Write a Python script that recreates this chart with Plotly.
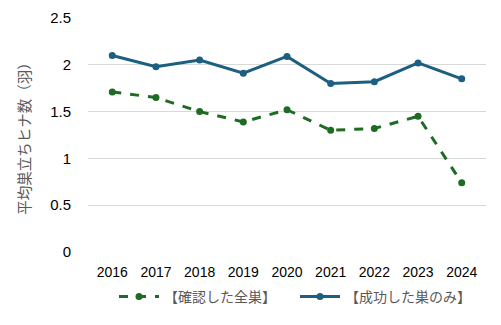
import plotly.graph_objects as go

years = ["2016", "2017", "2018", "2019", "2020", "2021", "2022", "2023", "2024"]
all_nests = [1.71, 1.65, 1.50, 1.39, 1.52, 1.30, 1.32, 1.45, 0.74]
successful_nests = [2.10, 1.98, 2.05, 1.91, 2.09, 1.80, 1.82, 2.02, 1.85]
name_all = "【確認した全巣】"
name_success = "【成功した巣のみ】"
y_title = "平均巣立ちヒナ数（羽）"
y_ticks = [0, 0.5, 1, 1.5, 2, 2.5]

green = "#1e6b24"
blue = "#1d5f80"

fig = go.Figure()
fig.add_trace(go.Scatter(
    x=years, y=all_nests, name=name_all, mode="lines+markers",
    line=dict(color=green, width=3, dash="dash"),
    marker=dict(color=green, size=7), legend="legend",
))
fig.add_trace(go.Scatter(
    x=years, y=successful_nests, name=name_success, mode="lines+markers",
    line=dict(color=blue, width=3),
    marker=dict(color=blue, size=7), legend="legend2",
))

legend_common = dict(
    orientation="h", xanchor="left", xref="container",
    y=1 - 297 / 325, yanchor="middle", yref="container",
    font=dict(size=14, color="#595959", family="Noto Sans CJK JP"),
    itemwidth=40, bgcolor="rgba(0,0,0,0)",
)

fig.update_layout(
    width=501, height=325,
    margin=dict(l=88, r=15, t=18, b=73, autoexpand=False),
    paper_bgcolor="white", plot_bgcolor="white",
    font=dict(family="Liberation Sans, Arial, Noto Sans CJK JP", size=14, color="#000000"),
    showlegend=True,
    legend=dict(x=114 / 501, **legend_common),
    legend2=dict(x=295 / 501, **legend_common),
    xaxis=dict(
        type="category", showgrid=False, zeroline=False, showline=False,
        ticks="", ticklabelstandoff=10, tickfont=dict(size=14, color="#000000"),
    ),
    yaxis=dict(
        range=[0, 2.5], tickvals=y_ticks, ticktext=[f"{v:g}" for v in y_ticks],
        showgrid=True, gridcolor="#d9d9d9", gridwidth=1.3, zeroline=False,
        showline=False, ticks="", ticklabelstandoff=16,
        tickfont=dict(size=15, color="#000000"),
        title=dict(text=y_title, font=dict(size=14.5, color="#595959", family="Noto Sans CJK JP"), standoff=16),
    ),
)

fig.write_html("out.html")
